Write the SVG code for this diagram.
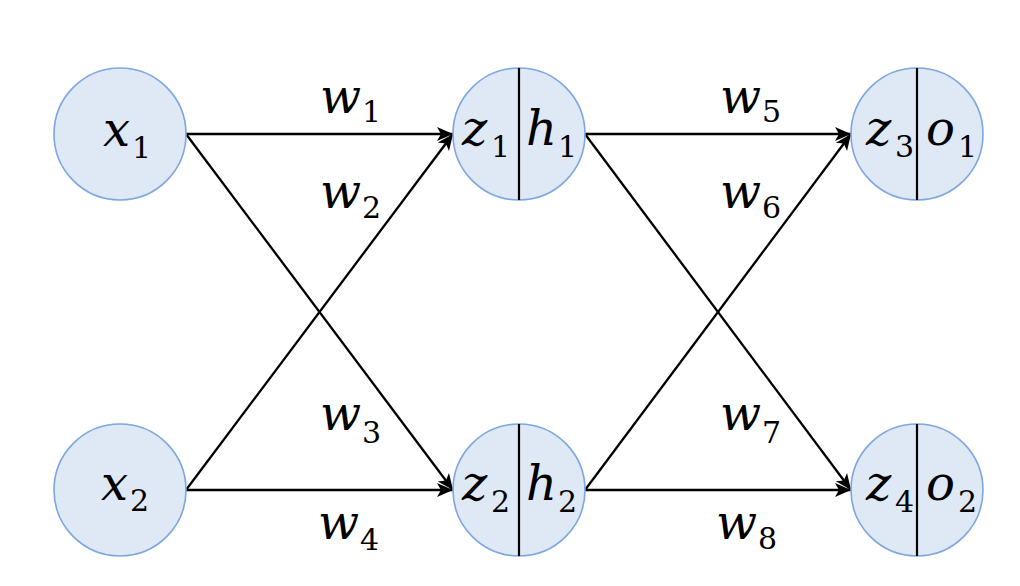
<svg xmlns="http://www.w3.org/2000/svg" width="1020" height="586" viewBox="0 0 1020 586">
<style>
.node{fill:#dfe8f5;stroke:#7ea6e0;stroke-width:1.6}
.div{stroke:#000;stroke-width:2.2}
.edge{stroke:#000;stroke-width:2.3;fill:none;marker-end:url(#arr)}
.v{font-family:"DejaVu Serif",serif;font-style:italic;font-size:48px;fill:#000}
.s{font-family:"DejaVu Serif",serif;font-style:normal;font-size:30px;fill:#000}
</style>
<defs>
<marker id="arr" markerUnits="userSpaceOnUse" markerWidth="20" markerHeight="18" viewBox="0 -9 18 18" refX="16" refY="0" orient="auto">
<path d="M0,-7 L16,0 L0,7 L4,0 Z" fill="#000"/>
</marker>
</defs>
<rect width="1020" height="586" fill="#fff"/>
<g id="connectors">
<line class="edge" x1="186" y1="134" x2="453" y2="134"/>
<line class="edge" x1="186" y1="134" x2="453" y2="490"/>
<line class="edge" x1="186" y1="490" x2="453" y2="134"/>
<line class="edge" x1="186" y1="490" x2="453" y2="490"/>
<line class="edge" x1="585" y1="134" x2="851" y2="134"/>
<line class="edge" x1="585" y1="134" x2="851" y2="490"/>
<line class="edge" x1="585" y1="490" x2="851" y2="134"/>
<line class="edge" x1="585" y1="490" x2="851" y2="490"/>
</g>
<g id="labels">
<text x="320" y="113"><tspan class="v">w</tspan><tspan class="s" x="362" y="122">1</tspan></text>
<text x="320" y="208"><tspan class="v">w</tspan><tspan class="s" x="362" y="218">2</tspan></text>
<text x="320" y="430"><tspan class="v">w</tspan><tspan class="s" x="362" y="443">3</tspan></text>
<text x="318" y="539"><tspan class="v">w</tspan><tspan class="s" x="360" y="550">4</tspan></text>
<text x="720" y="113"><tspan class="v">w</tspan><tspan class="s" x="762" y="122">5</tspan></text>
<text x="720" y="208"><tspan class="v">w</tspan><tspan class="s" x="762" y="218">6</tspan></text>
<text x="720" y="430"><tspan class="v">w</tspan><tspan class="s" x="762" y="443">7</tspan></text>
<text x="716" y="539"><tspan class="v">w</tspan><tspan class="s" x="758" y="549">8</tspan></text>
</g>
<g id="x1">
<circle class="node" cx="120" cy="134" r="66"/>
<text x="103" y="146"><tspan class="v">x</tspan><tspan class="s" x="132" y="158">1</tspan></text>
</g>
<g id="x2">
<circle class="node" cx="120" cy="490" r="66"/>
<text x="101" y="500"><tspan class="v">x</tspan><tspan class="s" x="130" y="511">2</tspan></text>
</g>
<g id="n_z1h1">
<circle class="node" cx="519" cy="134" r="66"/>
<line class="div" x1="519" y1="68" x2="519" y2="200"/>
<text x="462" y="145"><tspan class="v">z</tspan><tspan class="s" x="491" y="157">1</tspan></text>
<text x="526" y="145"><tspan class="v">h</tspan><tspan class="s" x="558" y="157">1</tspan></text>
</g>
<g id="n_z2h2">
<circle class="node" cx="519" cy="490" r="66"/>
<line class="div" x1="519" y1="424" x2="519" y2="556"/>
<text x="462" y="500"><tspan class="v">z</tspan><tspan class="s" x="491" y="512">2</tspan></text>
<text x="526" y="500"><tspan class="v">h</tspan><tspan class="s" x="558" y="512">2</tspan></text>
</g>
<g id="n_z3o1">
<circle class="node" cx="917" cy="134" r="66"/>
<line class="div" x1="917" y1="68" x2="917" y2="200"/>
<text x="866" y="145"><tspan class="v">z</tspan><tspan class="s" x="895" y="157">3</tspan></text>
<text x="926" y="145"><tspan class="v">o</tspan><tspan class="s" x="958" y="157">1</tspan></text>
</g>
<g id="n_z4o2">
<circle class="node" cx="917" cy="490" r="66"/>
<line class="div" x1="917" y1="424" x2="917" y2="556"/>
<text x="866" y="500"><tspan class="v">z</tspan><tspan class="s" x="895" y="512">4</tspan></text>
<text x="926" y="500"><tspan class="v">o</tspan><tspan class="s" x="958" y="512">2</tspan></text>
</g>
</svg>
